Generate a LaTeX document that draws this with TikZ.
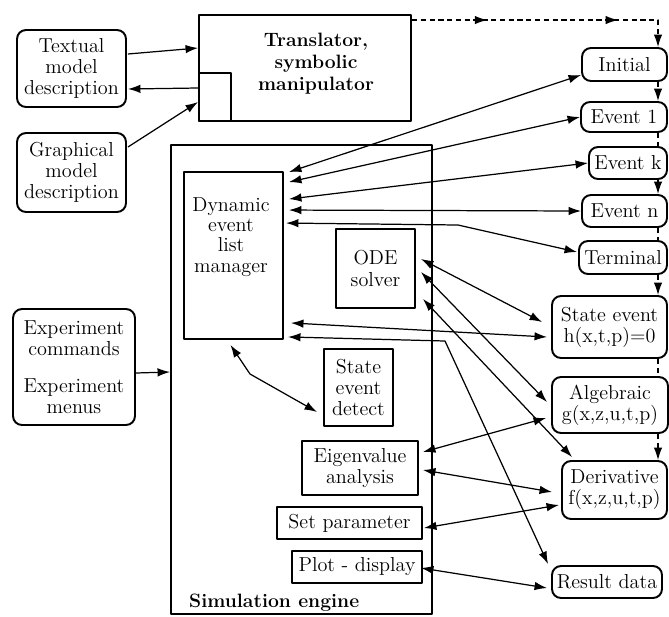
\documentclass[tikz,border=0pt]{standalone}
\usetikzlibrary{arrows.meta,decorations.markings}
\begin{document}
\begin{tikzpicture}[x=0.02cm,y=-0.02cm,line join=round,>={Latex[length=2.5mm,width=1.7mm]},
	font=\fontsize{11.5}{12}\selectfont,
	box/.style={draw,line width=1.1pt,fill=white,inner sep=1pt,align=center},
	rbox/.style={box,rounded corners=1.8mm},
	arr/.style={->,line width=0.7pt},
	dbl/.style={<->,line width=0.7pt},
	chain/.style={line width=0.7pt,dash pattern=on 3pt off 2pt},
	chainarr/.style={chain,->}]
	\useasboundingbox (0,0) rectangle (669,616);
	\path
	(658,0) coordinate (vx)
	(445,341) coordinate (b1)
	(458,225) coordinate (b2)
	(250,374) coordinate (b3)
	;
	% engine and its parts
	\node[box,minimum width=5.22cm,minimum height=9.38cm] (sim) at (301.5,379.5) {};
	\node[anchor=west,font=\fontsize{11}{12}\selectfont\bfseries] (simtxt) at (183,603) {Simulation engine};
	\node[box,minimum width=1.98cm,minimum height=3.34cm] (delm) at (233.5,255.5) {};
	\node[align=center,font=\fontsize{11.5}{11.5}\selectfont] (delmtxt) at (231,237) {Dynamic\\event\\list\\manager};
	\node[box,minimum width=1.58cm,minimum height=1.58cm] (ode) at (375.5,268.5) {ODE\\solver};
	\node[box,minimum width=1.38cm,minimum height=1.54cm] (sed) at (358.5,387.5) {State\\event\\detect};
	\node[box,minimum width=2.32cm,minimum height=1.08cm] (eig) at (360,468) {Eigenvalue\\analysis};
	\node[box,minimum width=2.90cm,minimum height=0.64cm] (setp) at (349.5,523) {Set parameter};
	\node[box,minimum width=2.60cm,minimum height=0.64cm] (plot) at (357,567) {Plot - display};
	% model side
	\node[rbox,minimum width=2.18cm,minimum height=1.54cm] (txt) at (71.5,68.5) {Textual\\model\\description};
	\node[rbox,minimum width=2.18cm,minimum height=1.58cm] (gra) at (71.5,172.5) {Graphical\\model\\description};
	\node[rbox,minimum width=2.44cm,minimum height=2.32cm] (exp) at (74,367) {Experiment\\commands\\[9pt]Experiment\\menus};
	\node[box,minimum width=4.24cm,minimum height=2.12cm] (trans) at (305,68) {};
	\node[align=center,font=\fontsize{11}{12.5}\selectfont\bfseries] (transtxt) at (316,64) {Translator,\\symbolic\\manipulator};
	\node[box,minimum width=0.64cm,minimum height=0.96cm] (tin) at (215,97) {};
	% model sections
	\node[rbox,minimum width=1.70cm,minimum height=0.66cm] (ini) at (624.5,64.5) {Initial};
	\node[rbox,minimum width=1.72cm,minimum height=0.60cm] (ev1) at (624,117) {Event 1};
	\node[rbox,minimum width=1.56cm,minimum height=0.64cm] (evk) at (628,163) {Event k};
	\node[rbox,minimum width=1.70cm,minimum height=0.64cm] (evn) at (624.5,211) {Event n};
	\node[rbox,minimum width=1.76cm,minimum height=0.66cm] (term) at (623,257.5) {Terminal};
	\node[rbox,minimum width=2.30cm,minimum height=1.24cm] (stev) at (609.5,327) {State event\\h(x,t,p)=0};
	\node[rbox,minimum width=2.32cm,minimum height=1.12cm] (alg) at (610,405) {Algebraic\\g(x,z,u,t,p)};
	\node[rbox,minimum width=2.10cm,minimum height=1.16cm] (der) at (614.5,490) {Derivative\\f(x,z,u,t,p)};
	\node[rbox,minimum width=2.20cm,minimum height=0.64cm] (res) at (607,582) {Result data};
	% connectors
	\draw[arr] ([shift={(1,-14.5)}]txt.east) -- ([shift={(0,-20)}]trans.west);
	\draw[arr] ([shift={(0,-9)}]tin.west) -- ([shift={(1,20.5)}]txt.east);
	\draw[arr] ([shift={(1,-25.5)}]gra.east) -- ([shift={(0,5)}]tin.west);
	\draw[arr] ([shift={(0,6)}]exp.east) -- ([shift={(0,-7.5)}]sim.west);
	\draw[chainarr,postaction={decorate},decoration={markings,mark=at position 0.276 with {\arrow{>}},mark=at position 0.755 with {\arrow{>}}}] ([shift={(0,6)}]trans.north east) -| (ini.north -| vx);
	\foreach \p/\q/\t in {ini/ev1/chainarr,ev1/evk/chain,evk/evn/chainarr,evn/term/chain,term/stev/chainarr,stev/alg/chain,alg/der/chainarr}
	\draw[\t] (\p.south -| vx) -- (\q.north -| vx);
	\foreach \n/\s/\e in {ini/1/10.5,ev1/11/0,evk/28/0,evn/39/0}
	\draw[dbl] ([shift={(5,\s)}]delm.north east) -- ([shift={(0,\e)}]\n.west);
	\draw[dbl] ([shift={(2,52)}]delm.north east) -- (b2) -- ([shift={(-1,-5.5)}]term.west);
	\draw[dbl] ([shift={(7,-17)}]delm.south east) -- ([shift={(-4,10)}]stev.west);
	\draw[dbl] ([shift={(4,-3)}]delm.south east) -- (b1) -- ([shift={(-3,-1)}]res.north west);
	\draw[dbl] ([shift={(-3,5)}]delm.south) -- (b3) -- ([shift={(-6,24.5)}]sed.west);
	\draw[dbl] ([shift={(5,-9.5)}]ode.east) -- ([shift={(-9,-5)}]stev.west);
	\draw[dbl] ([shift={(5,3.5)}]ode.east) -- ([shift={(-4,-3)}]alg.west);
	\draw[dbl] ([shift={(7,-10)}]ode.south east) -- ([shift={(11,-3)}]der.north west);
	\draw[dbl] ([shift={(4,-16)}]eig.east) -- ([shift={(-5,13)}]alg.west);
	\draw[dbl] ([shift={(4,2)}]eig.east) -- ([shift={(-9,2)}]der.west);
	\draw[dbl] ([shift={(1,5)}]setp.east) -- ([shift={(-2,15)}]der.west);
	\draw[dbl] ([shift={(-2,1)}]plot.east) -- ([shift={(-4,6)}]res.west);
\end{tikzpicture}
\end{document}
